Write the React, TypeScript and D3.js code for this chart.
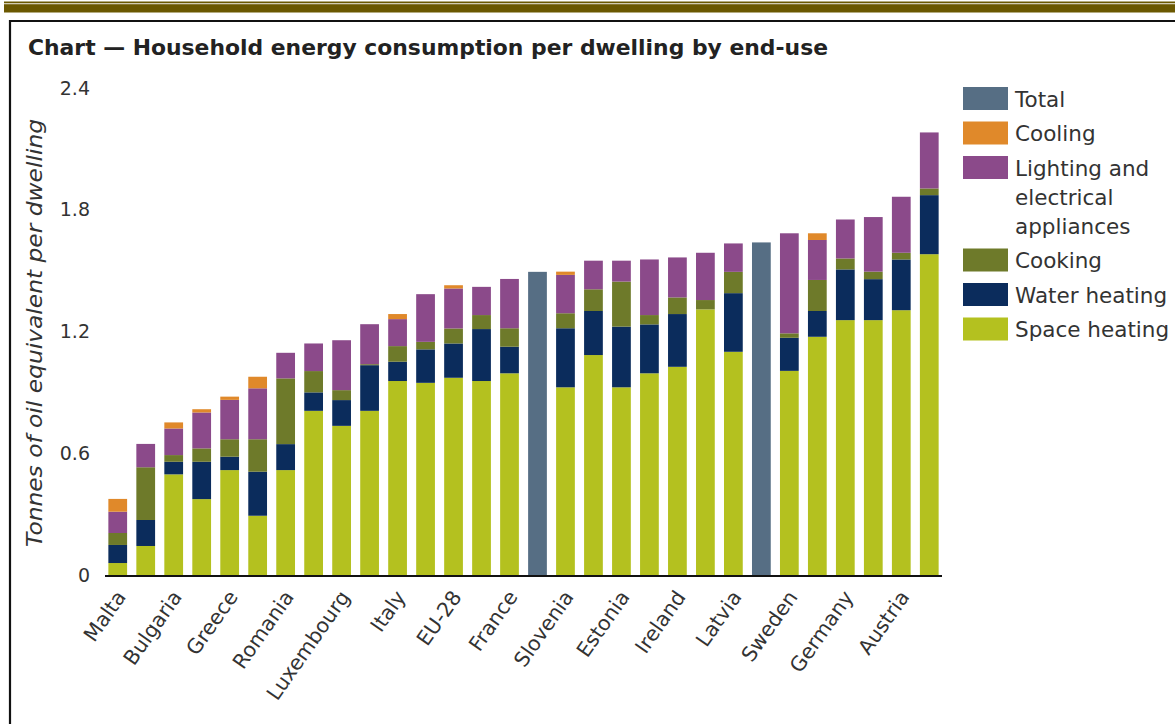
import React from 'react'
import * as d3 from 'd3'

// countries, left to right (only every other one is labelled on the axis)
const countries = [
  'Malta', 'Portugal', 'Bulgaria', 'Spain', 'Greece', 'Cyprus', 'Romania', 'Croatia',
  'Luxembourg', 'Lithuania', 'Italy', 'Netherlands', 'EU-28', 'United Kingdom', 'France',
  'Hungary', 'Slovenia', 'Poland', 'Estonia', 'Czech Republic', 'Ireland', 'Slovakia',
  'Latvia', 'Belgium', 'Sweden', 'Finland', 'Germany', 'Denmark', 'Austria', 'Norway',
]

// toe per dwelling
const spaceHeating = [0.059, 0.143, 0.496, 0.374, 0.517, 0.292, 0.517, 0.809, 0.735, 0.809, 0.956, 0.947, 0.972, 0.956, 0.994, 0, 0.925, 1.084, 0.925, 0.994, 1.026, 1.309, 1.1, 0, 1.006, 1.174, 1.256, 1.256, 1.305, 1.581]
const waterHeating = [0.089, 0.128, 0.062, 0.184, 0.066, 0.217, 0.128, 0.091, 0.127, 0.225, 0.095, 0.165, 0.169, 0.256, 0.131, 0, 0.291, 0.217, 0.299, 0.241, 0.26, 0, 0.289, 0, 0.163, 0.127, 0.25, 0.202, 0.25, 0.291]
const cooking = [0.059, 0.26, 0.033, 0.066, 0.086, 0.16, 0.324, 0.105, 0.049, 0.005, 0.077, 0.037, 0.074, 0.069, 0.091, 0, 0.074, 0.107, 0.222, 0.046, 0.082, 0.046, 0.105, 0, 0.022, 0.153, 0.054, 0.037, 0.033, 0.033]
const lighting = [0.105, 0.115, 0.131, 0.177, 0.194, 0.251, 0.126, 0.136, 0.246, 0.197, 0.133, 0.235, 0.197, 0.139, 0.243, 0, 0.189, 0.141, 0.103, 0.274, 0.197, 0.233, 0.14, 0, 0.493, 0.197, 0.192, 0.269, 0.276, 0.276]
const cooling = [0.063, 0, 0.03, 0.016, 0.016, 0.057, 0, 0, 0, 0, 0.025, 0, 0.016, 0, 0, 0, 0.016, 0, 0, 0, 0, 0, 0, 0, 0, 0.033, 0, 0, 0, 0]
const total = [0, 0, 0, 0, 0, 0, 0, 0, 0, 0, 0, 0, 0, 0, 0, 1.494, 0, 0, 0, 0, 0, 0, 0, 1.639, 0, 0, 0, 0, 0, 0]

const yTicks = [0, 0.6, 1.2, 1.8, 2.4]

const keys = ['space', 'water', 'cooking', 'lighting', 'cooling', 'total']
const colors = {
  total: '#566e84',
  cooling: '#e0892a',
  lighting: '#8b4a8a',
  cooking: '#6e7a2a',
  water: '#0b2c5c',
  space: '#b4c11f',
}
const legend = [
  { key: 'total', lines: ['Total'] },
  { key: 'cooling', lines: ['Cooling'] },
  { key: 'lighting', lines: ['Lighting and', 'electrical', 'appliances'] },
  { key: 'cooking', lines: ['Cooking'] },
  { key: 'water', lines: ['Water heating'] },
  { key: 'space', lines: ['Space heating'] },
]

const font = '"DejaVu Sans", Verdana, sans-serif'

export default function App() {
  const rows = countries.map((c, i) => ({
    country: c,
    space: spaceHeating[i],
    water: waterHeating[i],
    cooking: cooking[i],
    lighting: lighting[i],
    cooling: cooling[i],
    total: total[i],
  }))

  const x = d3.scaleBand().domain(countries).range([105, 942]).paddingInner(0.33).paddingOuter(0.12)
  const y = d3.scaleLinear().domain([0, 2.4]).range([575, 88])
  const series = d3.stack().keys(keys)(rows as any)

  let legendY = 87
  const legendItems = legend.map(l => {
    const item = { ...l, y: legendY }
    legendY += 34.5 + (l.lines.length - 1) * 29
    return item
  })

  return (
    <div style={{ position: 'absolute', left: 0, top: 0 }}>
      <svg width={1175} height={724} style={{ display: 'block', background: '#fff' }} fontFamily={font}>
        {/* header bands and frame */}
        <rect x={4} y={1.5} width={1171} height={1.8} fill="#6b5800" />
        <rect x={4} y={4.2} width={1171} height={8.3} fill="#6b5800" />
        <line x1={10} y1={21} x2={1175} y2={21} stroke="#111" strokeWidth={2.2} />
        <line x1={10} y1={20} x2={10} y2={724} stroke="#111" strokeWidth={2.2} />

        <text x={28} y={55} fontSize={21} fontWeight="bold" fill="#222" textLength={800} lengthAdjust="spacingAndGlyphs">
          Chart — Household energy consumption per dwelling by end-use
        </text>

        {/* y axis */}
        <text transform={`translate(42,${333}) rotate(-90)`} textAnchor="middle" fontSize={21}
          fontStyle="italic" fill="#333" textLength={428} lengthAdjust="spacingAndGlyphs">Tonnes of oil equivalent per dwelling</text>
        {yTicks.map(t => (
          <text key={t} x={90} y={y(t)} dy="0.35em" textAnchor="end" fontSize={19} fill="#333">
            {t === 0 ? '0' : d3.format('.1f')(t)}
          </text>
        ))}

        {/* bars */}
        {series.map(s => (
          <g key={s.key} fill={colors[s.key]}>
            {s.map((d, i) => d[1] - d[0] > 0 ? (
              <rect key={i} x={x(countries[i])} width={x.bandwidth()} y={y(d[1])}
                height={y(d[0]) - y(d[1])} />
            ) : null)}
          </g>
        ))}

        <line x1={105} x2={942} y1={576} y2={576} stroke="#111" strokeWidth={2} />

        {/* x labels */}
        {countries.map((c, i) => i % 2 === 0 ? (
          <text key={c} transform={`translate(${x(c) + x.bandwidth() / 2 + 9},${597}) rotate(-55)`}
            textAnchor="end" fontSize={20.5} fill="#333">{c}</text>
        ) : null)}

        {/* legend */}
        {legendItems.map(l => (
          <g key={l.key}>
            <rect x={963} y={l.y} width={45} height={23} fill={colors[l.key]} />
            {l.lines.map((line, j) => (
              <text key={j} x={1015} y={l.y + 12 + j * 29} dy="0.35em" fontSize={21.5} fill="#333">{line}</text>
            ))}
          </g>
        ))}
      </svg>
    </div>
  )
}
